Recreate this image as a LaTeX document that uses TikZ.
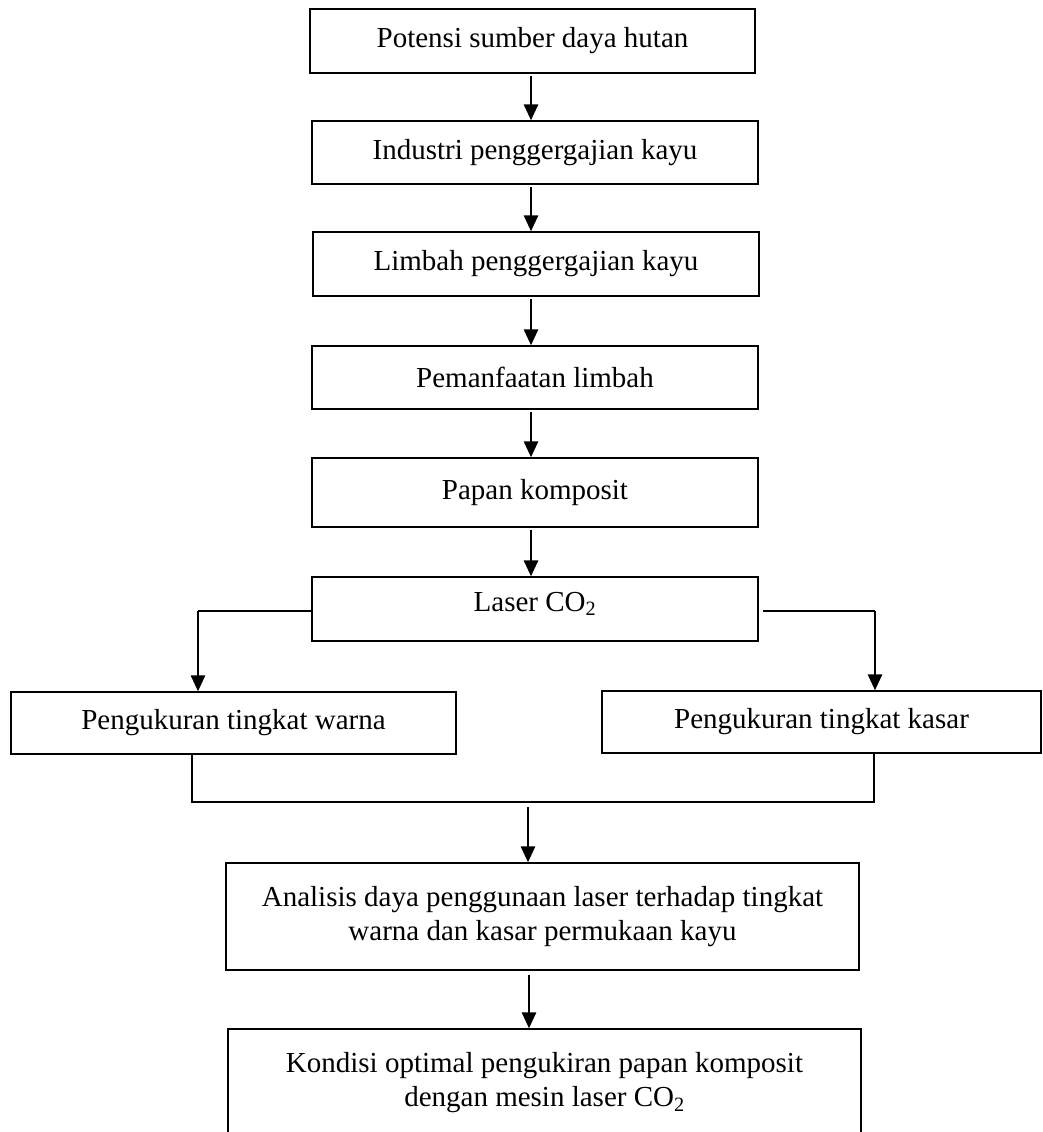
\documentclass[tikz,border=0pt]{standalone}
\usepackage{fontspec}
\setmainfont{Liberation Serif}
\usetikzlibrary{arrows.meta,positioning}
\tikzset{
kotak/.style={
  rectangle,
  draw=black,
  line width=1.3pt,
  align=center,
  inner sep=0pt,
  font=\fontsize{29}{34}\selectfont
  },
garis/.style={line width=1.3pt},
panah/.style={line width=2.8pt,-{Triangle[length=16pt,width=14pt]}}
}

\begin{document}
\begin{tikzpicture}[x=1pt,y=-1pt]
\clip[use as bounding box] (0,0) rectangle (1043,1132);

% kolom tengah
\node[kotak,minimum width=445pt,minimum height=64pt] (b1) at (532.5,41) {Potensi sumber daya hutan};
\node[kotak,minimum width=446pt,minimum height=63pt] (b2) at (535,152.5) {Industri penggergajian kayu};
\node[kotak,minimum width=446pt,minimum height=64pt] (b3) at (536,264) {Limbah penggergajian kayu};
\node[kotak,minimum width=446pt,minimum height=63pt] (b4) at (535,377.5) {Pemanfaatan limbah};
\node[kotak,minimum width=446pt,minimum height=69pt] (b5) at (535,492.5) {Papan komposit};
\node[kotak,minimum width=446pt,minimum height=64pt,text depth=15pt] (b6) at (535,609) {Laser CO\textsubscript{2}};

% cabang
\node[kotak,minimum width=445pt,minimum height=62pt] (warna) at (233.5,723) {Pengukuran tingkat warna};
\node[kotak,minimum width=439pt,minimum height=62pt] (kasar) at (821.5,722) {Pengukuran tingkat kasar};

\node[kotak,minimum width=633pt,minimum height=107pt] (analisis) at (542.5,916.5)
  {Analisis daya penggunaan laser terhadap tingkat\\warna dan kasar permukaan kayu};
\node[kotak,minimum width=633pt,minimum height=107pt] (kondisi) at (544.5,1082.5)
  {Kondisi optimal pengukiran papan komposit\\dengan mesin laser CO\textsubscript{2}};

\coordinate (tengah) at (531,0);
\draw[panah] ([yshift=-2pt]b1.south -| tengah) -- (b2.north -| tengah);
\draw[panah] ([yshift=-2pt]b2.south -| tengah) -- (b3.north -| tengah);
\draw[panah] ([yshift=-2pt]b3.south -| tengah) -- (b4.north -| tengah);
\draw[panah] ([yshift=-2pt]b4.south -| tengah) -- (b5.north -| tengah);
\draw[panah] ([yshift=-2pt]b5.south -| tengah) -- (b6.north -| tengah);

\coordinate (kiri) at (198,611);
\coordinate (kanan) at (875,611);
\draw[garis] (b6.west |- kiri) -- (kiri);
\draw[panah] (kiri) -- (kiri |- warna.north);
\draw[garis] ([xshift=4pt]b6.east |- kanan) -- (kanan);
\draw[panah] (kanan) -- (kanan |- kasar.north);

% gabung
\coordinate (gkiri) at (192,802);
\coordinate (gkanan) at (874,802);
\draw[garis] (gkiri |- warna.south) -- (gkiri) -- (gkanan) -- (gkanan |- kasar.south);

\coordinate (turun) at (528,807);
\draw[panah] (turun) -- (turun |- analisis.north);
\coordinate (turun2) at (529,975);
\draw[panah] (turun2) -- (turun2 |- kondisi.north);

\end{tikzpicture}
\end{document}
